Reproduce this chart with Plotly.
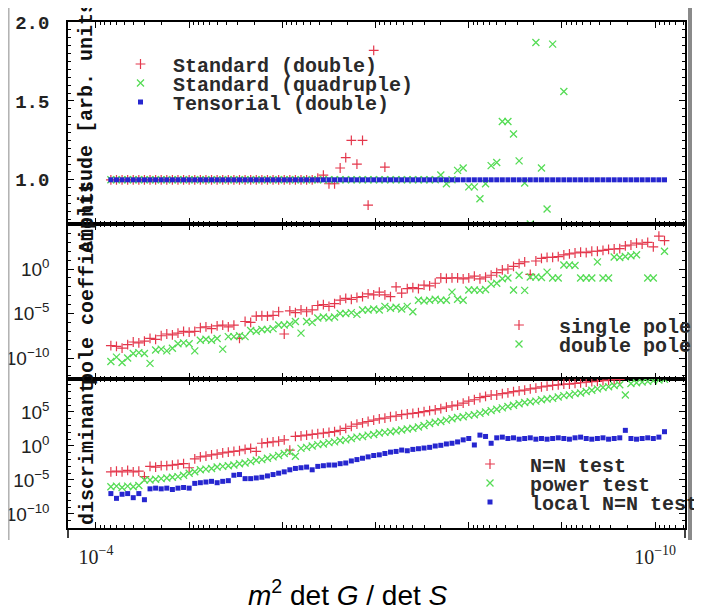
import plotly.graph_objects as go
from plotly.subplots import make_subplots

# ---------------- data ----------------
x_log10 = [-4.16, -4.22, -4.28, -4.34, -4.40, -4.46, -4.52, -4.58, -4.64, -4.70,
           -4.76, -4.82, -4.88, -4.94, -5.00, -5.06, -5.12, -5.18, -5.24, -5.30,
           -5.36, -5.42, -5.48, -5.54, -5.60, -5.66, -5.72, -5.78, -5.84, -5.90,
           -5.96, -6.02, -6.08, -6.14, -6.20, -6.26, -6.32, -6.38, -6.44, -6.50,
           -6.56, -6.62, -6.68, -6.74, -6.80, -6.86, -6.92, -6.98, -7.04, -7.10,
           -7.16, -7.22, -7.28, -7.34, -7.40, -7.46, -7.52, -7.58, -7.64, -7.70,
           -7.76, -7.82, -7.88, -7.94, -8.00, -8.06, -8.12, -8.18, -8.24, -8.30,
           -8.36, -8.42, -8.48, -8.54, -8.60, -8.66, -8.72, -8.78, -8.84, -8.90,
           -8.96, -9.02, -9.08, -9.14, -9.20, -9.26, -9.32, -9.38, -9.44, -9.50,
           -9.56, -9.62, -9.68, -9.74, -9.80, -9.86, -9.92, -9.98, -10.04, -10.10]

amp_standard_double = [1.0, 1.0, 1.0, 1.0, 1.0, 1.0, 1.0, 1.0, 1.0, 1.0,
                       1.0, 1.0, 1.0, 1.0, 1.0, 1.0, 1.0, 1.0, 1.0, 1.0,
                       1.0, 1.0, 1.0, 1.0, 1.0, 1.0, 1.0, 1.0, 1.0, 1.0,
                       1.0, 1.0, 1.0, 1.0, 1.0, 1.0, 1.0, 1.01, 1.03, 0.975,
                       0.975, 1.075, 1.14, 1.25, 1.10, 1.25, 0.84, 1.82, None, 1.08,
                       None, None, None, None, None, None, None, None, None, None,
                       None, None, None, None, None, None, None, None, None, None,
                       None, None, None, None, None, None, None, None, None, None,
                       None, None, None, None, None, None, None, None, None, None,
                       None, None, None, None, None, None, None, None, None, None]
amp_standard_quad = [1.0, 1.0, 1.0, 1.0, 1.0, 1.0, 1.0, 1.0, 1.0, 1.0,
                     1.0, 1.0, 1.0, 1.0, 1.0, 1.0, 1.0, 1.0, 1.0, 1.0,
                     1.0, 1.0, 1.0, 1.0, 1.0, 1.0, 1.0, 1.0, 1.0, 1.0,
                     1.0, 1.0, 1.0, 1.0, 1.0, 1.0, 1.0, 1.0, 1.0, 1.0,
                     1.0, 1.0, 1.0, 1.0, 1.0, 1.0, 1.0, 1.0, 1.0, 1.0,
                     1.0, 1.0, 1.0, 1.0, 1.0, 1.0, 1.0, 1.0, 1.0, 1.03,
                     0.975, 1.0, 1.06, 1.075, 0.955, 0.955, 0.88, 0.975, 1.09, 1.11,
                     1.37, 1.37, 1.29, 1.12, 0.98, 0.72, 1.87, 1.075, 0.815, 1.86,
                     None, 1.56, None, None, None, None, None, None, None, None,
                     None, None, None, None, None, None, None, None, None, None]
amp_tensorial_double = [1.0, 1.0, 1.0, 1.0, 1.0, 1.0, 1.0, 1.0, 1.0, 1.0,
                        1.0, 1.0, 1.0, 1.0, 1.0, 1.0, 1.0, 1.0, 1.0, 1.0,
                        1.0, 1.0, 1.0, 1.0, 1.0, 1.0, 1.0, 1.0, 1.0, 1.0,
                        1.0, 1.0, 1.0, 1.0, 1.0, 1.0, 1.0, 1.0, 1.0, 1.0,
                        1.0, 1.0, 1.0, 1.0, 1.0, 1.0, 1.0, 1.0, 1.0, 1.0,
                        1.0, 1.0, 1.0, 1.0, 1.0, 1.0, 1.0, 1.0, 1.0, 1.0,
                        1.0, 1.0, 1.0, 1.0, 1.0, 1.0, 1.0, 1.0, 1.0, 1.0,
                        1.0, 1.0, 1.0, 1.0, 1.0, 1.0, 1.0, 1.0, 1.0, 1.0,
                        1.0, 1.0, 1.0, 1.0, 1.0, 1.0, 1.0, 1.0, 1.0, 1.0,
                        1.0, 1.0, 1.0, 1.0, 1.0, 1.0, 1.0, 1.0, 1.0, 1.0]

pole_single_log10 = [-8.6, -8.7, -8.9, -8.5, -8.2, -8.3, -8.1, -7.8, -7.9, -7.5,
                     -7.3, -7.4, -7.2, -7.0, -7.1, -7.0, -6.6, -6.5, -6.7, -6.4,
                     -6.3, -6.5, -6.3, -7.8, -5.9, -6.0, -5.3, -5.25, -5.3, -5.2,
                     -4.8, -7.3, -4.7, -4.9, -4.6, -4.8, -4.6, -4.1, -4.0, -4.2,
                     -3.9, -3.5, -3.3, -3.4, -3.2, -3.1, -2.8, -2.9, -2.6, -2.9,
                     -3.1, -2.0, -2.7, -2.2, -2.1, -2.2, -1.8, -1.9, -1.6, -1.0,
                     -1.05, -1.0, -1.0, -1.1, -1.0, -0.8, -1.1, -0.9, -0.7, -0.4,
                     -0.1, 0.0, 0.3, 0.6, 0.8, -0.6, 0.9, 1.2, 1.3, 1.3,
                     1.4, 1.6, 1.7, 1.8, 1.9, 1.85, 2.0, 2.0, 2.1, 2.2,
                     2.25, 2.3, 2.6, 2.7, 2.9, 2.8, 3.0, 2.5, 3.7, 3.2]
pole_double_log10 = [-10.4, -9.9, -10.5, -10.0, -9.5, -9.4, -9.5, -10.6, -9.1, -9.0,
                     -9.2, -8.9, -8.4, -8.3, -8.4, -9.2, -8.0, -7.9, -8.0, -7.8,
                     -9.0, -7.6, -7.6, -7.5, -7.6, -6.9, -7.0, -6.8, -6.8, -6.7,
                     -6.3, -6.3, -6.2, -5.9, -7.2, -5.9, -6.0, -5.5, -5.4, -5.5,
                     -5.4, -5.0, -5.0, -4.9, -5.1, -4.6, -4.6, -4.5, -4.6, -4.2,
                     -4.4, -4.3, -4.5, -4.2, -4.8, -3.5, -3.6, -3.5, -3.4, -3.5,
                     -3.5, -2.6, -3.4, -3.5, -2.35, -2.35, -2.4, -2.3, -1.7, -1.6,
                     -1.1, -1.0, -2.35, -0.7, -2.4, -0.9, -0.9, -0.95, -0.35, -1.0,
                     -1.0, 0.45, 0.45, 0.4, -1.0, -1.0, -1.0, 0.8, -1.0, -1.0,
                     1.35, 1.3, 1.4, 1.5, 1.6, None, -1.0, -1.0, None, 2.0]

disc_nn_log10 = [-3.8, -3.7, -3.8, -3.6, -3.8, -3.7, -4.5, -3.0, -3.1, -2.9,
                 -2.9, -2.8, -2.7, -2.6, -3.2, -1.9, -1.6, -1.5, -1.3, -1.2,
                 -1.0, -0.9, -0.8, -0.7, -0.5, -0.35, -0.8, 0.4, 0.5, 0.6,
                 0.7, 0.9, -0.6, 1.4, 1.5, 1.6, 1.7, 1.8, 1.9, 2.0,
                 2.1, 2.3, 2.6, 2.9, 3.2, 3.4, 3.6, 3.8, 4.0, 4.1,
                 4.3, 4.4, 4.6, 4.7, 4.8, 4.9, 5.05, 5.2, 5.3, 5.5,
                 5.7, 5.9, 6.0, 6.3, 6.6, 6.8, 7.1, 7.3, 7.5, 7.5,
                 7.7, 7.8, 8.0, 8.1, 8.2, 8.4, 8.5, 8.7, 8.8, 8.9,
                 9.0, 9.1, 9.1, 9.2, 9.3, 9.4, 9.45, 9.5, 9.6, 9.7,
                 9.75, 9.8, None, None, None, None, None, None, None, None]
disc_power_log10 = [-6.0, -5.9, -6.1, -5.9, -6.0, -5.8, -5.0, -5.0, -4.9, -4.8,
                    -4.7, -4.6, -4.5, -4.3, -4.0, -3.8, -3.5, -3.4, -3.3, -3.1,
                    -3.0, -2.9, -2.8, -2.6, -2.5, -2.3, -2.1, -2.0, -1.8, -1.6,
                    -1.4, -1.1, -0.9, -1.5, -0.35, -0.2, 0.0, 0.2, 0.3, 0.5,
                    0.6, 0.8, 0.9, 1.1, 1.3, 1.4, 1.6, 1.7, 1.9, 2.0,
                    2.1, 2.2, 2.35, 2.5, 2.6, 2.8, 3.0, 3.3, 3.5, 3.6,
                    3.8, 4.0, 4.2, 4.3, 4.5, 4.6, 4.8, 5.0, 5.2, 5.4,
                    5.6, 5.8, 6.0, 6.2, 6.4, 6.5, 6.6, 6.8, 6.9, 7.0,
                    7.2, 7.4, 7.5, 7.7, 7.8, 8.0, 8.2, 8.4, 8.6, 8.7,
                    8.9, 9.0, 7.5, 9.2, 9.3, 9.4, 9.5, 9.6, 9.7, 9.8]
disc_local_log10 = [-7.0, -7.7, -7.1, -7.0, -7.6, -7.0, -7.9, -6.3, -6.2, -6.3,
                    -6.2, -6.4, -6.2, -6.1, -6.2, -5.5, -5.4, -5.3, -5.2, -5.4,
                    -5.2, -5.1, -4.3, -4.2, -4.8, -4.8, -4.7, -4.6, -4.4, -4.2,
                    -4.0, -3.8, -3.5, -3.3, -3.2, -3.1, -3.5, -3.0, -2.9, -2.8,
                    -2.8, -2.6, -2.5, -2.2, -2.0, -1.8, -1.6, -1.4, -1.3, -1.1,
                    -0.9, -0.8, -0.6, -0.7, -0.5, -0.4, -0.3, -0.2, 0.0, 0.1,
                    0.3, 0.4, 0.6, 0.9, 1.1, 0.15, 1.6, 1.4, 0.4, 1.2,
                    1.3, 1.1, 1.2, 1.0, 1.1, 1.2, 1.0, 1.1, 1.0, 1.1,
                    1.2, 1.1, 1.0, 1.2, 1.3, 1.1, 1.0, 1.1, 1.2, 1.0,
                    1.1, 1.2, 2.3, 1.1, 1.0, 1.1, 1.2, 1.1, 1.3, 2.1]

x_tick_labels = ["10<sup>\u221210</sup>", "", "", "", "", "", "10<sup>\u22124</sup>"]
y_mid_ticks = ["10<sup>\u221210</sup>", "10<sup>\u22125</sup>", "10<sup>0</sup>"]
y_bot_ticks = ["10<sup>\u221210</sup>", "10<sup>\u22125</sup>", "10<sup>0</sup>", "10<sup>5</sup>"]
x_title = "<i>m</i><sup>2</sup> det <i>G</i> / det <i>S</i>"

def pow10(vals):
    return [None if v is None else 10 ** v for v in vals]

x_vals = pow10(x_log10)

RED = "#e4374c"
GREEN = "#55dc55"
BLUE = "#2626cf"
MONO = "Liberation Mono"

plus = dict(symbol="cross-thin-open", size=7, line=dict(color=RED, width=1.2), color=RED)
cross = dict(symbol="x-thin-open", size=7, line=dict(color=GREEN, width=1.3), color=GREEN)
square = dict(symbol="square", size=5, line=dict(width=0), color=BLUE)

fig = make_subplots(rows=3, cols=1, shared_xaxes=True, vertical_spacing=0,
                    row_heights=[202, 155, 149])

series = [
    (1, amp_standard_double, "Standard (double)", plus, "legend", False),
    (1, amp_standard_quad, "Standard (quadruple)", cross, "legend2", False),
    (1, amp_tensorial_double, "Tensorial (double)", square, "legend3", False),
    (2, pole_single_log10, "single pole", plus, "legend4", True),
    (2, pole_double_log10, "double pole", cross, "legend5", True),
    (3, disc_nn_log10, "N=N test", plus, "legend6", True),
    (3, disc_power_log10, "power test", cross, "legend7", True),
    (3, disc_local_log10, "local N=N test", square, "legend8", True),
]
for row, vals, name, mk, leg, is_log in series:
    fig.add_trace(go.Scatter(x=x_vals, y=pow10(vals) if is_log else vals,
                             mode="markers", name=name, marker=mk,
                             legend=leg, cliponaxis=True),
                  row=row, col=1)

# page-pixel -> paper helpers (the page adds an 8 px body margin)
W0, PW = 68.0, 617.0
B0, PH = 528.0, 506.0
def px_x(p):
    return (p - W0) / PW
def px_y(p):
    return (B0 - p) / PH

# ---------------- legends: (left px, centre px, itemwidth) ----------------
leg_font = dict(family=MONO, size=20, color="#2a2a2a", weight="bold")
legend_pos = {
    "legend": (108, 64, 55), "legend2": (108, 83, 55), "legend3": (108, 102, 55),
    "legend4": (479, 325, 70), "legend5": (479, 344, 70),
    "legend6": (450, 464, 70), "legend7": (450, 483, 70), "legend8": (450, 502, 70),
}
for key, (lx, ly, iw) in legend_pos.items():
    fig.layout[key] = dict(x=px_x(lx), y=px_y(ly), xanchor="left", yanchor="middle",
                           bgcolor="rgba(0,0,0,0)", borderwidth=0,
                           font=leg_font, itemwidth=iw)

# ---------------- axes ----------------
x_range = [-3.70, -10.32]
decades = [10.0 ** k for k in range(-10, -3)]
x_minor = [m * 10.0 ** k for k in range(-11, -4) for m in range(2, 10)]
for r in (1, 2, 3):
    fig.update_xaxes(row=r, col=1, type="log", range=x_range, showline=True,
                     linecolor="black", linewidth=1.5, mirror="ticks",
                     ticks="inside", ticklen=6, tickwidth=1, tickcolor="black",
                     tickmode="array", tickvals=decades, ticktext=x_tick_labels,
                     showticklabels=(r == 3),
                     showgrid=False, zeroline=False,
                     minor=dict(tickmode="array", tickvals=x_minor, ticks="inside",
                                ticklen=3, tickwidth=1, tickcolor="black", showgrid=False))
fig.update_xaxes(row=3, col=1,
                 tickfont=dict(family="Liberation Serif", size=20, color="#222"),
                 ticklabelstandoff=10)

yax_common = dict(showline=True, linecolor="black", linewidth=1.5, mirror="ticks",
                  ticks="inside", ticklen=6, tickwidth=1, tickcolor="black",
                  showgrid=False, zeroline=False, ticklabelstandoff=13)
fig.update_yaxes(row=1, col=1, range=[0.72, 2.0], tickmode="linear", tick0=0, dtick=0.5,
                 tickformat=".1f",
                 tickfont=dict(family=MONO, size=19, color="#222", weight="bold"),
                 minor=dict(dtick=0.05, tick0=0, ticks="inside", ticklen=3,
                            tickcolor="black", showgrid=False),
                 **yax_common)
fig.update_yaxes(row=2, col=1, type="log", range=[-12.36, 5.06], tickmode="array",
                 tickvals=[1e-10, 1e-5, 1.0], ticktext=y_mid_ticks,
                 tickfont=dict(family="Liberation Sans", size=19, color="#222"),
                 minor=dict(tickmode="array", tickvals=[10.0 ** k for k in range(-12, 6)],
                            ticks="inside", ticklen=3, tickcolor="black", showgrid=False),
                 **yax_common)
fig.update_yaxes(row=3, col=1, type="log", range=[-12.06, 9.85], tickmode="array",
                 tickvals=[1e-10, 1e-5, 1.0, 1e5], ticktext=y_bot_ticks,
                 tickfont=dict(family="Liberation Sans", size=19, color="#222"),
                 minor=dict(tickmode="array", tickvals=[10.0 ** k for k in range(-12, 10)],
                            ticks="inside", ticklen=3, tickcolor="black", showgrid=False),
                 **yax_common)

# ---------------- axis titles (placed as in the original figure) ----------------
ytitle_font = dict(family=MONO, size=20, color="#111", weight="bold")
for text, cy in (("Amplitude [arb. units]", 121), ("pole coefficients", 283),
                 ("discriminant", 453)):
    fig.add_annotation(text=text, xref="paper", yref="paper", x=px_x(87), y=px_y(cy),
                       xanchor="center", yanchor="middle", textangle=-90,
                       showarrow=False, font=ytitle_font)
fig.add_annotation(text=x_title, xref="paper", yref="paper", x=px_x(348), y=px_y(593),
                   xanchor="center", yanchor="middle", showarrow=False,
                   font=dict(family="Liberation Sans", size=28, color="black"))

# frame stubs of the cut-off panel below, and the side rules of the original page
for xp in (68, 685):
    fig.add_shape(type="line", xref="paper", yref="paper", x0=px_x(xp), x1=px_x(xp),
                  y0=px_y(528), y1=px_y(538), line=dict(color="black", width=1.5))
fig.add_shape(type="line", xref="paper", yref="paper", x0=px_x(8.8), x1=px_x(8.8),
              y0=px_y(8), y1=px_y(540), line=dict(color="#b0b0b0", width=1.5))
fig.add_shape(type="line", xref="paper", yref="paper", x0=px_x(690), x1=px_x(690),
              y0=px_y(8), y1=px_y(540), line=dict(color="#8a8a8a", width=4))

fig.update_layout(width=694, height=602, plot_bgcolor="white", paper_bgcolor="white",
                  margin=dict(l=60, r=17, t=14, b=82, autoexpand=False),
                  showlegend=True)

fig.write_html("out.html")
